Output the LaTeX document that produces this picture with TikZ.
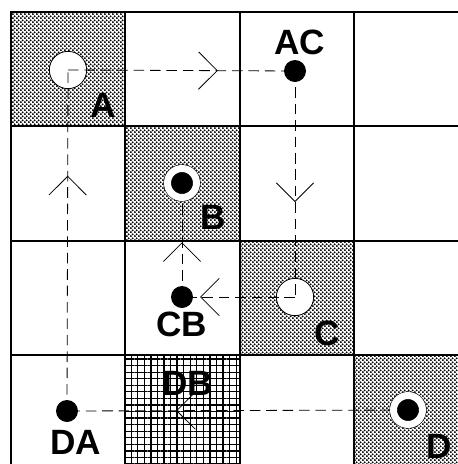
\documentclass[tikz,border=0pt]{standalone}
\usepackage{fontspec}
\newfontfamily\tagfont{Liberation Sans}
\usetikzlibrary{arrows.meta,patterns,patterns.meta,decorations.markings}
\pgfdeclarepatternformonly{coarse dots}{\pgfpointorigin}{\pgfpoint{3.6pt}{3.6pt}}{\pgfpoint{3.6pt}{3.6pt}}{
  \pgfpathcircle{\pgfpoint{0.9pt}{0.9pt}}{1.05pt}
  \pgfpathcircle{\pgfpoint{2.7pt}{2.7pt}}{1.05pt}
  \pgfusepath{fill}}
\pgfdeclarelayer{cells}
\pgfdeclarelayer{open}
\pgfdeclarelayer{track}
\pgfsetlayers{cells,open,track,main}
\begin{document}
\begin{tikzpicture}[x=0.03cm,y=-0.03cm]
  \tikzstyle{dotcell}=[pattern=coarse dots, pattern color=black]
  \tikzstyle{gridcell}=[pattern={Hatch[distance=5.6pt, angle=0, line width=1.1pt]}, pattern color=black]
  \tikzstyle{wall}=[line width=2.2pt]
  \tikzstyle{opencirc}=[circle, draw, fill=white, line width=0.7pt, minimum size=11.2mm, inner sep=0pt]
  \tikzstyle{ring}=[circle, draw, fill=black, line width=0.5pt, double=white, double distance=2.1mm,
    minimum size=8.7mm, inner sep=0pt]
  \tikzstyle{spot}=[circle, fill=black, minimum size=6.6mm, inner sep=0pt]
  \tikzstyle{tag}=[inner sep=0pt, font=\tagfont\bfseries\fontsize{30}{30}\selectfont]
  \tikzstyle{track}=[dash pattern=on 9pt off 5pt, line width=0.7pt]
  \tikzset{midtip/.style={postaction={decorate}, decoration={markings,
    mark=at position #1 with {\arrow{Straight Barb[length=5.6mm, width=11.2mm]}}}}}

  \useasboundingbox (0,0) rectangle (458,464);

  \begin{pgfonlayer}{cells}
    \fill[white] (0,0) rectangle (458,464);
    \path[dotcell] (11,12) rectangle (125,126);
    \path[dotcell] (125,126) rectangle (240,241);
    \path[dotcell] (240,241) rectangle (354,355);
    \path[dotcell] (354,355) rectangle (470,470);
    \path[gridcell] (125,355) rectangle (240,470);
    \foreach \gx in {11,125,240,354} \draw[wall] (\gx,11) -- (\gx,470);
    \foreach \gy in {12,126,241,355} \draw[wall] (10,\gy) -- (470,\gy);
  \end{pgfonlayer}

  \begin{pgfonlayer}{open}
    \node[opencirc] (A) at (68,70) {};
    \node[opencirc] (C) at (295,297) {};
  \end{pgfonlayer}

  \node[ring] (B) at (182,183) {};
  \node[ring] (D) at (408,410) {};
  \node[spot] (AC) at (295,71) {};
  \node[spot] (CB) at (182,297) {};
  \node[spot] (DA) at (67,411) {};

  \node[tag] (A-tag) at (103,105) {A};
  \node[tag] (AC-tag) at (300,42) {AC};
  \node[tag] (B-tag) at (213,217) {B};
  \node[tag] (CB-tag) at (182,324) {CB};
  \node[tag] (C-tag) at (327,333) {C};
  \node[tag] (DA-tag) at (76,442) {DA};
  \node[tag] (DB) at (188,383) {DB};
  \node[tag] (D-tag) at (439,446) {D};

  \begin{pgfonlayer}{track}
    \draw[track, midtip=0.66] (A.center) -- (AC.center);
    \draw[track, midtip=0.58] (AC.center) -- (C.center);
    \draw[track, midtip=0.84] (C.center) -- (CB.center);
    \draw[track, midtip=0.48] (CB.center) -- (B.center);
    \draw[track, midtip=0.68] (D.center) -- (DA.center);
    \draw[track, midtip=0.69] (DA.center) -- (A.center);
  \end{pgfonlayer}
\end{tikzpicture}
\end{document}
